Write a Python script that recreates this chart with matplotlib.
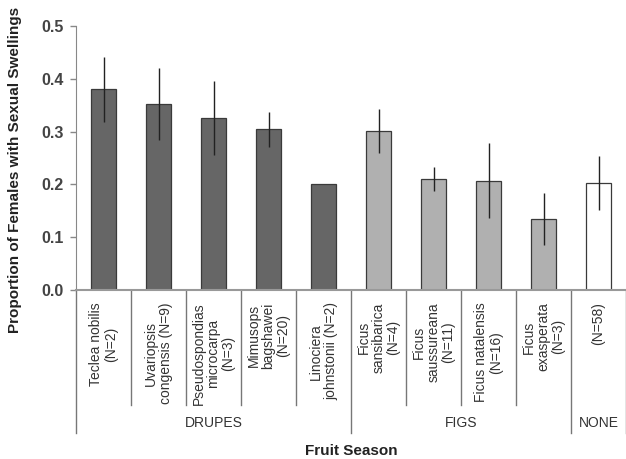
import matplotlib
matplotlib.use("Agg")
import matplotlib.pyplot as plt

plt.rcParams['font.family'] = ['Liberation Sans', 'DejaVu Sans']

# data
labels = ["Teclea nobilis\n(N=2)", "Uvariopsis\ncongensis (N=9)",
          "Pseudospondias\nmicrocarpa\n(N=3)", "Mimusops\nbagshawei\n(N=20)",
          "Linociera\njohnstonii (N=2)", "Ficus\nsansibarica\n(N=4)",
          "Ficus\nsaussureana\n(N=11)", "Ficus natalensis\n(N=16)",
          "Ficus\nexasperata\n(N=3)", "(N=58)"]
values = [0.380, 0.352, 0.325, 0.304, 0.200, 0.301, 0.210, 0.207, 0.134, 0.202]
errors = [0.061, 0.068, 0.070, 0.034, 0.0, 0.042, 0.023, 0.071, 0.049, 0.051]
groups = ["DRUPES", "FIGS", "NONE"]
group_sizes = [5, 4, 1]
group_colors = ["#666666", "#b0b0b0", "#ffffff"]

colors = []
for c, n in zip(group_colors, group_sizes):
    colors += [c] * n

fig = plt.figure(figsize=(6.26, 4.59), dpi=100)
ax = fig.add_axes([76 / 626, (459 - 290) / 459, 550 / 626, 264 / 459])

x = list(range(len(values)))
ax.bar(x, values, width=0.44, color=colors, edgecolor="#3a3a3a", linewidth=0.9, zorder=2)
ax.errorbar([xi for xi, e in zip(x, errors) if e > 0],
            [v for v, e in zip(values, errors) if e > 0],
            yerr=[e for e in errors if e > 0], fmt="none",
            ecolor="#222222", elinewidth=1.0, capsize=0, zorder=3)

ax.set_xlim(-0.5, len(values) - 0.5)
ax.set_ylim(0, 0.5)
ax.set_yticks([0.0, 0.1, 0.2, 0.3, 0.4, 0.5])
ax.set_yticklabels(["0.0", "0.1", "0.2", "0.3", "0.4", "0.5"], fontsize=11.5,
                   fontweight="bold", color="#444444")
ax.tick_params(axis="y", direction="out", length=4, color="#888888", width=1, pad=5)

ax.set_xticks(x)
ax.set_xticklabels(labels, rotation=90, va="top", ha="center",
                   multialignment="center", fontsize=10, linespacing=1.1,
                   color="#333333")
ax.tick_params(axis="x", length=0, pad=9)

for s in ["top", "right"]:
    ax.spines[s].set_visible(False)
ax.spines["left"].set_color("#888888")
ax.spines["bottom"].set_color("#999999")
ax.spines["bottom"].set_linewidth(1.5)

# separators between categories and groups
trans = ax.get_xaxis_transform()
bounds = [0]
for n in group_sizes:
    bounds.append(bounds[-1] + n)
for i in range(len(values) + 1):
    long = i in bounds
    ax.plot([i - 0.5, i - 0.5], [0, -0.54 if long else -0.436], transform=trans,
            color="#777777", lw=1, clip_on=False)

for g, a, b in zip(groups, bounds[:-1], bounds[1:]):
    ax.text((a + b - 1) / 2, -0.505, g, transform=trans, ha="center", va="center",
            fontsize=10, color="#333333")

ax.text(0.5, -0.608, "Fruit Season", transform=ax.transAxes, ha="center",
        va="center", fontsize=11, fontweight="bold", color="#222222")
fig.text(15 / 626, (459 - 170) / 459, "Proportion of Females with Sexual Swellings",
         rotation=90, ha="center", va="center", fontsize=11, fontweight="bold",
         color="#222222")

fig.savefig("out.png", dpi=100)
